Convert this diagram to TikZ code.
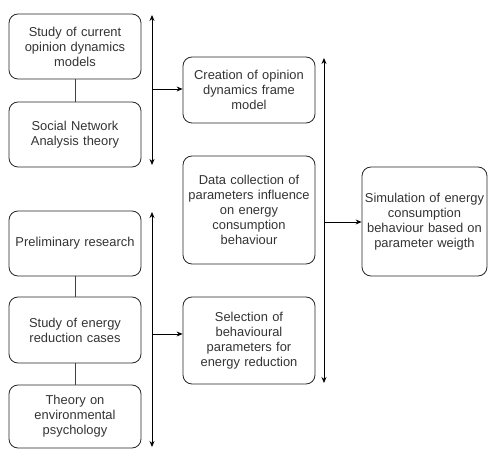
\documentclass[tikz,border=0pt]{standalone}
\usepackage{fontspec}
\setmainfont{Liberation Sans}
\usetikzlibrary{arrows.meta}
\begin{document}
\begin{tikzpicture}[x=1pt,y=-1pt,
  box/.style={draw=black!85, line width=0.8pt, rounded corners=9pt, align=center,
    inner sep=0pt, text width=130pt, font=\fontsize{12.9}{15}\selectfont, text=black!80},
  link/.style={draw=black!75, line width=0.8pt},
  span/.style={line width=0.8pt, {Stealth[length=6pt,width=5pt]}-{Stealth[length=6pt,width=5pt]}},
  feed/.style={line width=0.8pt, -{Stealth[length=6pt,width=5pt]}}]
\useasboundingbox (0,0) rectangle (488,449);

% left column: theory inputs
\node[box, minimum width=132pt, minimum height=65pt] (cur) at (75,46.5)
  {Study of current\\opinion dynamics\\models};
\node[box, minimum width=132pt, minimum height=65pt] (sna) at (75,134.5)
  {Social Network\\Analysis theory};
\node[box, minimum width=132pt, minimum height=65pt] (pre) at (75,243.5)
  {Preliminary research};
\node[box, minimum width=132pt, minimum height=66pt] (red) at (75,330)
  {Study of energy\\reduction cases};
\node[box, minimum width=132pt, minimum height=63pt] (env) at (75,416.5)
  {Theory on\\environmental\\psychology};

% middle column
\node[box, minimum width=132pt, minimum height=66pt] (cre) at (249,90)
  {Creation of opinion\\dynamics frame\\model};
\node[box, minimum width=132pt, minimum height=108pt] (dat) at (249,210)
  {Data collection of\\parameters influence\\on energy\\consumption\\behaviour};
\node[box, minimum width=132pt, minimum height=87pt] (sel) at (249,340.5)
  {Selection of\\behavioural\\parameters for\\energy reduction};

% result
\node[box, minimum width=125pt, minimum height=109pt, text width=124pt] (sim) at (424.5,221.5)
  {Simulation of energy\\consumption\\behaviour based on\\parameter weigth};

% links within the left column
\draw[link] (cur) -- (sna);
\draw[link] (pre) -- (red);
\draw[link] (red) -- (env);

% brackets and feeds
\coordinate (aT) at (152,15);   \coordinate (aB) at (152,165);
\coordinate (bT) at (152,212);  \coordinate (bB) at (152,447);
\coordinate (cT) at (324,58);   \coordinate (cB) at (324,383);
\coordinate (aM) at (152,89);   \coordinate (bM) at (152,334);
\coordinate (cM) at (324,222);
\draw[span] (aT) -- (aB);
\draw[span] (bT) -- (bB);
\draw[span] (cT) -- (cB);
\draw[feed] (aM) -- (cre.west |- aM);
\draw[feed] (bM) -- (sel.west |- bM);
\draw[feed] (cM) -- (sim.west |- cM);
\end{tikzpicture}
\end{document}
